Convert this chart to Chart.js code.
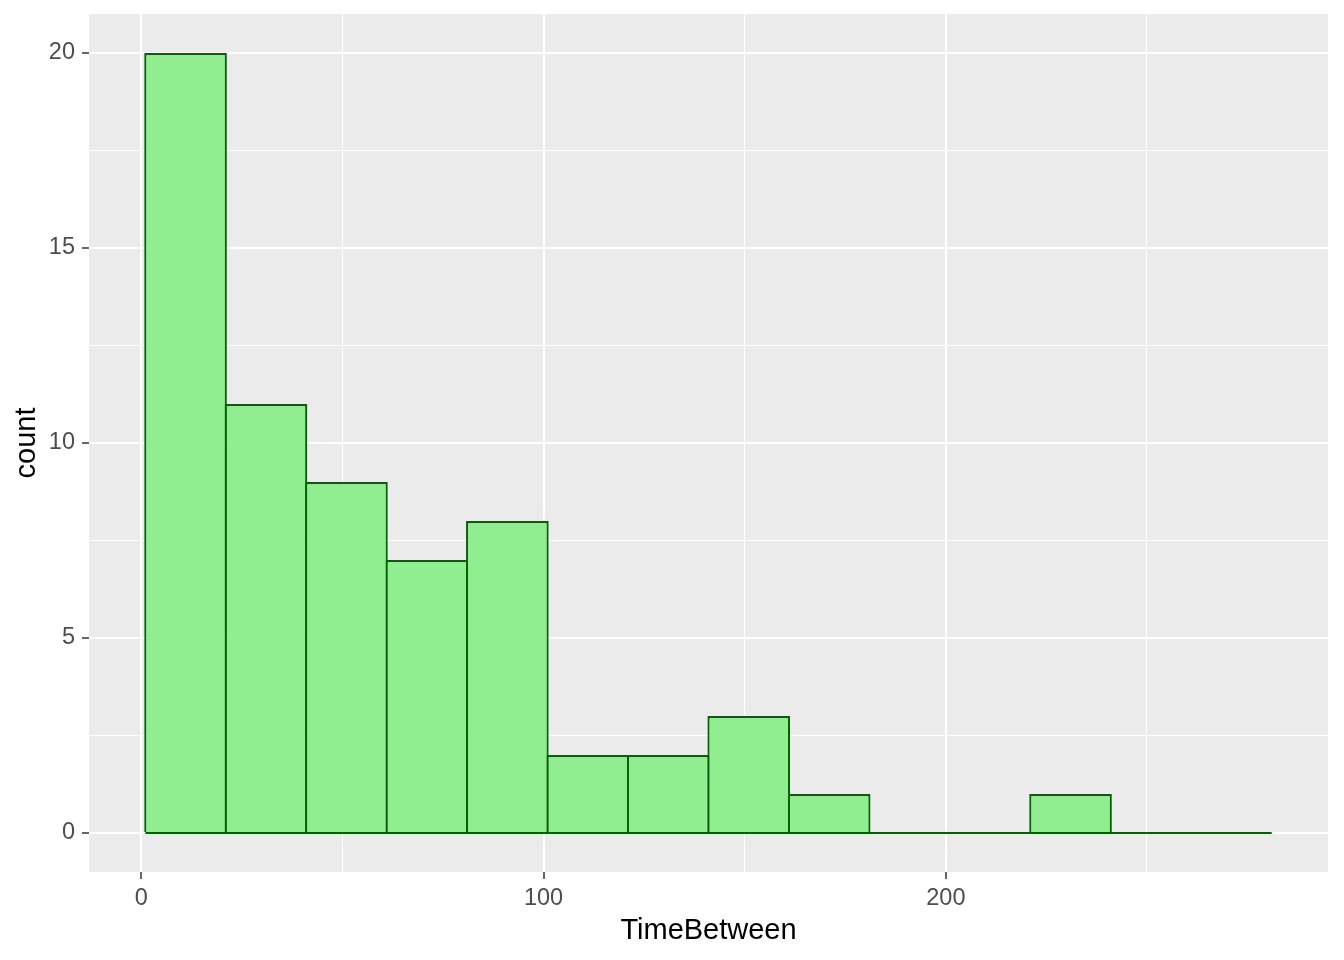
<!DOCTYPE html>
<html>
<head>
<meta charset="utf-8">
<title>TimeBetween histogram</title>
<script src="https://cdn.jsdelivr.net/npm/chart.js@4.4.0/dist/chart.umd.min.js"></script>
<style>
  body { margin: 0; background: #ffffff; }
  #chart { display: block; }
</style>
</head>
<body>
<canvas id="chart" width="1344" height="960"></canvas>
<script>

// histogram bins: edges and the count in each bin
var binEdges = [1, 21, 41, 61, 81, 101, 121, 141, 161, 181, 201, 221, 241, 261, 281];
var binCounts = [20, 11, 9, 7, 8, 2, 2, 3, 1, 0, 0, 1, 0, 0];

// axis ranges, breaks (major + minor grid) and labelled breaks
var xRange = [-13, 295];
var xBreaks = [0, 50, 100, 150, 200, 250];
var xLabelled = [0, 100, 200];
var yRange = [-1, 21];
var yBreaks = [0, 2.5, 5, 7.5, 10, 12.5, 15, 17.5, 20];
var yLabelled = [0, 5, 10, 15, 20];

var fontFamily = "'Liberation Sans', Arial, sans-serif";
var outline = 2.2;


/*
* grey panel behind the plot, like ggplot's theme_grey
*/
var panelBackground = {
  id: 'panelBackground',
  beforeDraw: function(chart) {
    var area = chart.chartArea;
    var ctx = chart.ctx;
    ctx.save();
    ctx.fillStyle = '#EBEBEB';
    ctx.fillRect(area.left, area.top, area.right - area.left, area.bottom - area.top);
    ctx.restore();
  }
};


// bar data: one bar per bin, centred between its edges
function buildBars(edges, counts) {
  var bars = [];
  for (var i = 0; i < counts.length; i++) {
    bars.push({x: (edges[i] + edges[i + 1]) / 2, y: counts[i]});
  }
  return bars;
}

// base line of the histogram (also covers the empty bins)
function buildBaseline(edges) {
  return [{x: edges[0], y: 0}, {x: edges[edges.length - 1], y: 0}];
}

// axis options shared by x and y
function axisOptions(range, breaks, labelled, fixSize) {
  function isLabelled(ctx) {
    return ctx.tick != null && labelled.indexOf(ctx.tick.value) >= 0;
  }
  return {
    type: 'linear',
    min: range[0],
    max: range[1],
    offset: false,
    afterBuildTicks: function(scale) {
      scale.ticks = breaks.map(function(v) { return {value: v}; });
    },
    afterFit: function(scale) {
      fixSize(scale);
      // no extra room for labels near the ends, the panel is fixed
      scale.paddingTop = 0;
      scale.paddingBottom = 0;
      scale.paddingLeft = 0;
      scale.paddingRight = 0;
    },
    border: {display: false},
    grid: {
      offset: false,
      color: '#FFFFFF',
      lineWidth: function(ctx) { return isLabelled(ctx) ? 2 : 1; },
      drawTicks: true,
      tickLength: 7,
      tickWidth: 1.5,
      tickColor: function(ctx) { return isLabelled(ctx) ? '#333333' : 'rgba(0,0,0,0)'; }
    },
    ticks: {
      autoSkip: false,
      maxRotation: 0,
      color: '#4D4D4D',
      font: {family: fontFamily, size: 23.5},
      callback: function(value) {
        return labelled.indexOf(value) >= 0 ? String(value) : '';
      }
    }
  };
}


var xAxis = axisOptions(xRange, xBreaks, xLabelled, function(scale) { scale.height = 88; });
xAxis.ticks.padding = 5;
xAxis.title = {
  display: true,
  text: 'TimeBetween',
  color: '#000000',
  font: {family: fontFamily, size: 29},
  padding: {top: 0, bottom: 12}
};

var yAxis = axisOptions(yRange, yBreaks, yLabelled, function(scale) { scale.width = 89; });
yAxis.ticks.padding = 7;
yAxis.title = {
  display: true,
  text: 'count',
  color: '#000000',
  font: {family: fontFamily, size: 29},
  padding: {top: 10, bottom: 0}
};


var chart = new Chart(document.getElementById('chart'), {
  type: 'bar',
  data: {
    datasets: [{
      type: 'line',
      data: buildBaseline(binEdges),
      borderColor: '#006400',
      borderWidth: outline,
      pointRadius: 0,
      order: 0
    }, {
      type: 'bar',
      data: buildBars(binEdges, binCounts),
      backgroundColor: '#90EE90',
      borderColor: '#006400',
      borderWidth: outline,
      borderSkipped: 'start',
      // slightly over 1 so neighbouring outlines overlap into one line
      barPercentage: 1.027,
      categoryPercentage: 1,
      order: 1
    }]
  },
  options: {
    responsive: false,
    devicePixelRatio: 1,
    animation: false,
    events: [],
    layout: {padding: {left: 0, top: 14, right: 16, bottom: 0}},
    plugins: {
      legend: {display: false},
      tooltip: {enabled: false}
    },
    scales: {
      x: xAxis,
      y: yAxis
    }
  },
  plugins: [panelBackground]
});

</script>
</body>
</html>
